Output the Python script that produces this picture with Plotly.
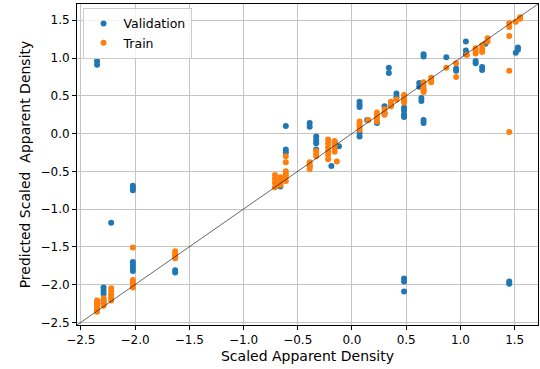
import plotly.graph_objects as go

# Validation set: true vs. predicted scaled apparent density
val_x = [-2.35, -2.35,
         -2.29, -2.29, -2.29, -2.29, -2.29,
         -2.22,
         -2.02, -2.02, -2.02, -2.02, -2.02, -2.02, -2.02,
         -1.63, -1.63,
         -0.66, -0.66, -0.66,
         -0.61, -0.61, -0.61,
         -0.39, -0.39, -0.39,
         -0.33, -0.33, -0.33, -0.33,
         -0.19, -0.16, -0.16, -0.12,
         0.07, 0.07, 0.07, 0.07, 0.07,
         0.14, 0.23, 0.30, 0.30, 0.34, 0.34, 0.41, 0.41,
         0.48, 0.48, 0.48, 0.48, 0.48, 0.48, 0.48,
         0.62, 0.62, 0.64, 0.64, 0.66, 0.66, 0.66, 0.66,
         0.87, 0.96, 0.96,
         1.05, 1.05, 1.05, 1.14, 1.14, 1.20, 1.20, 1.23,
         1.45, 1.45, 1.51, 1.53, 1.53]
val_y = [0.96, 0.91,
         -2.04, -2.08, -2.12, -2.21, -2.25,
         -1.18,
         -0.69, -0.72, -0.75, -1.70, -1.74, -1.78, -1.82,
         -1.81, -1.84,
         -0.62, -0.66, -0.70,
         0.10, -0.21, -0.25,
         0.14, 0.09, -0.43,
         -0.04, -0.09, -0.13, -0.21,
         -0.43, -0.11, -0.15, -0.17,
         0.42, 0.38, 0.35, 0.01, -0.04,
         0.18, 0.14, 0.36, 0.27, 0.87, 0.80, 0.53, 0.48,
         0.34, 0.30, 0.25, 0.22, -1.92, -1.96, -2.09,
         0.67, 0.62, 0.47, 0.43, 0.18, 0.14, 1.05, 1.02,
         1.01, 0.86, 0.83,
         1.22, 1.10, 1.05, 0.96, 0.93, 0.88, 0.84, 1.19,
         -1.96, -1.99, 1.07, 1.14, 1.11]

# Training set
train_x = [-2.35, -2.35, -2.35, -2.35, -2.35, -2.35,
           -2.29, -2.29, -2.29, -2.29,
           -2.22, -2.22, -2.22, -2.22, -2.22,
           -2.02, -2.02, -2.02, -2.02, -2.02,
           -1.63, -1.63, -1.63, -1.63,
           -0.71, -0.71, -0.71, -0.71,
           -0.66, -0.66, -0.66,
           -0.61, -0.61, -0.61, -0.61, -0.61, -0.61,
           -0.39, -0.39, -0.39,
           -0.33, -0.33, -0.33,
           -0.22, -0.22, -0.22, -0.22, -0.22, -0.22,
           -0.16, -0.16, -0.16, -0.16, -0.14,
           0.07, 0.07, 0.07, 0.07,
           0.15, 0.23, 0.23, 0.23, 0.23,
           0.30, 0.30, 0.30, 0.36, 0.36, 0.36, 0.41,
           0.48, 0.48, 0.48, 0.48,
           0.66, 0.66, 0.66, 0.66, 0.66,
           0.73, 0.73, 0.73,
           0.87, 0.96, 0.96, 1.06,
           1.14, 1.14, 1.14, 1.20, 1.20, 1.20, 1.25, 1.25,
           1.45, 1.45, 1.45, 1.45, 1.45,
           1.51, 1.55, 1.55]
train_y = [-2.21, -2.24, -2.27, -2.30, -2.33, -2.36,
           -2.18, -2.22, -2.25, -2.28,
           -2.05, -2.09, -2.13, -2.17, -2.21,
           -1.51, -1.94, -1.97, -2.00, -2.04,
           -1.56, -1.59, -1.62, -1.65,
           -0.55, -0.60, -0.65, -0.71,
           -0.58, -0.63, -0.68,
           -0.30, -0.38, -0.50, -0.54, -0.58, -0.63,
           -0.38, -0.42, -0.47,
           -0.23, -0.27, -0.30,
           -0.08, -0.13, -0.18, -0.23, -0.28, -0.34,
           -0.10, -0.15, -0.20, -0.24, -0.37,
           0.16, 0.12, 0.08, 0.05,
           0.18, 0.28, 0.24, 0.20, 0.16,
           0.32, 0.28, 0.25, 0.42, 0.39, 0.36, 0.45,
           0.51, 0.47, 0.44, 0.41,
           0.68, 0.64, 0.60, 0.57, 0.55,
           0.74, 0.70, 0.68,
           0.87, 0.93, 0.75, 1.04,
           1.13, 1.09, 1.06, 1.17, 1.12, 1.08, 1.26, 1.22,
           1.46, 1.41, 1.29, 0.83, 0.02,
           1.48, 1.54, 1.52]

# Identity (perfect prediction) line
ident = [-2.6, 1.8]
axis_range = [-2.535, 1.715]

fig = go.Figure()
fig.add_trace(go.Scatter(x=val_x, y=val_y, mode="markers", name="Validation",
                         marker=dict(color="#1f77b4", size=6, line=dict(width=0))))
fig.add_trace(go.Scatter(x=train_x, y=train_y, mode="markers", name="Train",
                         marker=dict(color="#ff7f0e", size=6, line=dict(width=0))))
fig.add_trace(go.Scatter(x=ident, y=ident, mode="lines", showlegend=False,
                         line=dict(color="rgba(0,0,0,0.75)", width=0.8), hoverinfo="skip"))

axis_common = dict(
    range=axis_range, dtick=0.5, tick0=0, tickformat=".1f",
    showgrid=True, gridcolor="#c4c4c4", gridwidth=1,
    zeroline=False, showline=True, linecolor="black", linewidth=1, mirror=True,
    ticks="outside", ticklen=4, tickwidth=1, tickcolor="black",
    tickfont=dict(family="DejaVu Sans", size=12, color="black"),
)

fig.update_layout(
    width=540, height=369,
    margin=dict(l=77, r=2, t=4, b=44),
    paper_bgcolor="white", plot_bgcolor="white",
    font=dict(family="DejaVu Sans", color="black"),
    xaxis=dict(axis_common, title=dict(text="Scaled Apparent Density",
                                       font=dict(size=14), standoff=4)),
    yaxis=dict(axis_common, title=dict(text="Predicted Scaled  Apparent Density",
                                       font=dict(size=14), standoff=6)),
    legend=dict(x=0.012, y=0.988, xanchor="left", yanchor="top",
                bgcolor="rgba(255,255,255,0.8)", bordercolor="#cccccc", borderwidth=1,
                font=dict(size=12.5), itemsizing="trace", itemwidth=30,
                tracegroupgap=0),
    showlegend=True,
)

fig.write_html("out.html")
